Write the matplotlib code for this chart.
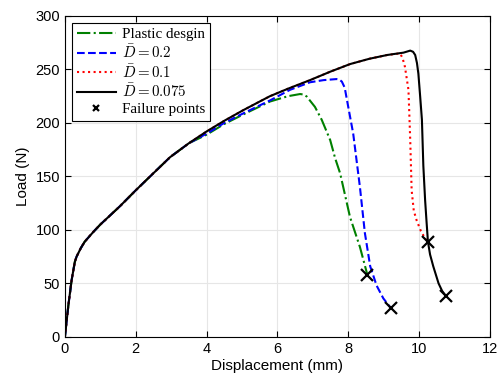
import numpy as np
import matplotlib.pyplot as plt

plt.rcParams['font.family'] = 'Liberation Sans'
plt.rcParams['mathtext.fontset'] = 'cm'

# values
# common elastic / early plastic part shared by all curves
x_base = [0, 0.1, 0.19, 0.28, 0.33, 0.45, 0.56, 0.8, 1.0, 1.55, 2.0, 2.5, 2.97, 3.5]
y_base = [0, 30, 53, 70, 75, 83, 89, 98, 105, 122, 137, 153, 168, 181]

x_black = x_base + [4.0, 4.5, 5.04, 5.5, 5.79, 6.3, 6.92, 7.5, 8.05, 8.6, 9.1, 9.56, 9.75, 9.83,
                    9.89, 9.94, 9.98, 10.03, 10.08, 10.12, 10.17, 10.21, 10.25, 10.31, 10.4,
                    10.55, 10.65, 10.75]
y_black = y_base + [192, 202, 212, 220, 225, 232, 240, 248, 255, 260, 263.5, 265.7, 267.6, 266.5,
                    263.5, 256, 246, 225, 203, 160, 128, 108, 89, 77, 66,
                    50, 43, 38.5]

x_red = x_base + [4.0, 4.5, 5.04, 5.5, 5.79, 6.3, 6.92, 7.5, 8.05, 8.6, 9.1, 9.46, 9.53, 9.6,
                  9.7, 9.73, 9.75, 9.79, 9.85, 9.93, 10.05, 10.17, 10.25]
y_red = y_base + [192, 202, 212, 220, 225, 232, 240, 248, 255, 260, 263.5, 265, 261, 252.6,
                  231, 203, 184, 137, 118, 109, 99, 92, 89]

x_blue = x_base + [4.0, 4.5, 5.04, 5.79, 6.36, 6.92, 7.3, 7.67, 7.75, 7.82, 7.9, 8.0,
                   8.14, 8.33, 8.47, 8.62, 8.8, 8.99, 9.2]
y_blue = y_base + [190, 200, 209, 221, 231, 238, 240, 241, 240.5, 238.6, 233, 215,
                   190, 140, 97, 66, 48, 36, 27]

x_green = x_base + [4.0, 4.5, 5.04, 5.79, 6.3, 6.64, 6.75, 6.83, 7.06, 7.25, 7.49, 7.63,
                    7.77, 8.05, 8.33, 8.54]
y_green = y_base + [189, 199, 208, 220, 225, 227, 226.5, 224.6, 215, 203, 184, 167,
                    153, 112, 84, 58]

x_fail = [8.54, 9.2, 10.25, 10.75]
y_fail = [58, 27, 89, 38.5]

fig = plt.figure(figsize=(5.03, 3.89), dpi=100)
ax = fig.add_axes([0.129, 0.134, 0.845, 0.825])

ax.plot(x_green, y_green, '-.', color=(0, 0.5, 0), lw=1.5, label='Plastic desgin')
ax.plot(x_blue, y_blue, '--', color='b', lw=1.5, label=r'$\bar{D}=0.2$')
ax.plot(x_red, y_red, ':', color='r', lw=1.5, label=r'$\bar{D}=0.1$')
ax.plot(x_black, y_black, '-', color='k', lw=1.5, label=r'$\bar{D}=0.075$')
ax.plot(x_fail, y_fail, 'x', color='k', ms=8, mew=1.6, label='Failure points')

ax.set_xlim(0, 12)
ax.set_ylim(0, 300)
ax.set_xticks(np.arange(0, 13, 2))
ax.set_yticks(np.arange(0, 301, 50))
ax.grid(True, color='#e6e6e6', lw=0.8)
ax.set_axisbelow(True)
ax.tick_params(direction='in', top=True, right=True, labelsize=10.5, length=4)
ax.set_xlabel('Displacement (mm)', fontsize=11, labelpad=2)
ax.set_ylabel('Load (N)', fontsize=11, labelpad=4)

leg = ax.legend(loc='upper left', prop={'family': 'Liberation Serif', 'size': 10.8},
                fancybox=False, edgecolor='k', framealpha=1, handlelength=2.6,
                borderaxespad=0.5, labelspacing=0.15, handletextpad=0.4, borderpad=0.3,
                markerscale=0.6)
leg.get_frame().set_linewidth(0.8)

fig.savefig('out.png', dpi=100)
